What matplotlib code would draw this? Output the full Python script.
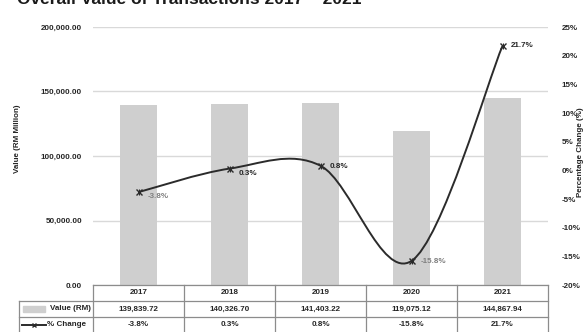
import matplotlib
matplotlib.use("Agg")
import matplotlib.pyplot as plt
from matplotlib.path import Path
from matplotlib.patches import PathPatch, Rectangle
from matplotlib.ticker import FuncFormatter, MultipleLocator

# data
years = ["2017", "2018", "2019", "2020", "2021"]
value_rm = [139839.72, 140326.70, 141403.22, 119075.12, 144867.94]
pct_change = [-3.8, 0.3, 0.8, -15.8, 21.7]
value_labels = ["139,839.72", "140,326.70", "141,403.22", "119,075.12", "144,867.94"]
pct_labels = ["-3.8%", "0.3%", "0.8%", "-15.8%", "21.7%"]

BAR_COLOR = "#cfcfcf"
LINE_COLOR = "#2b2b2b"
TEXT_COLOR = "#262626"
BORDER = "#8c8c8c"
GRID = "#d9d9d9"
FONT = "Liberation Sans"
FS = 5.8

plt.rcParams["font.family"] = [FONT, "DejaVu Sans"]

W, H = 586, 332
fig = plt.figure(figsize=(W / 100, H / 100), dpi=100)

# plot area in pixels
px_l, px_r, px_t, px_b = 93, 548, 27, 285
pw, ph = px_r - px_l, px_b - px_t
ax = fig.add_axes([px_l / W, 1 - px_b / H, pw / W, ph / H])
x = list(range(len(years)))
ax.bar(x, value_rm, width=0.4, color=BAR_COLOR, zorder=2)
ax.set_xlim(-0.5, len(years) - 0.5)
ax.set_ylim(0, 200000)
ax.yaxis.set_major_locator(MultipleLocator(50000))
ax.yaxis.set_major_formatter(FuncFormatter(lambda v, p: f"{v:,.2f}"))
ax.grid(axis="y", color=GRID, lw=1.0, zorder=0)
ax.set_axisbelow(True)
ax.set_xticks([])
for s in ax.spines.values():
    s.set_visible(False)
ax.tick_params(axis="y", length=0, pad=8, labelsize=FS, labelcolor=TEXT_COLOR)
for t in ax.get_yticklabels():
    t.set_fontweight("bold")

# secondary axis: % change
ax2 = ax.twinx()
ax2.set_ylim(-20, 25)
ax2.yaxis.set_major_locator(MultipleLocator(5))
ax2.yaxis.set_major_formatter(FuncFormatter(lambda v, p: f"{v:.0f}%"))
for s in ax2.spines.values():
    s.set_visible(False)
ax2.tick_params(axis="y", length=0, pad=10, labelsize=FS, labelcolor=TEXT_COLOR)
for t in ax2.get_yticklabels():
    t.set_fontweight("bold")

# axis titles
fig.text(18 / W, 1 - 139 / H, "Value (RM Million)", rotation=90, ha="center", va="center",
         fontsize=FS, fontweight="bold", color=TEXT_COLOR)
fig.text(581 / W, 1 - 152 / H, "Percentage Change (%)", rotation=90, ha="center", va="center",
         fontsize=FS, fontweight="bold", color=TEXT_COLOR)

# smoothed line (Excel style bezier through the points)
pts = list(zip(x, pct_change))
verts = [pts[0]]
codes = [Path.MOVETO]
n = len(pts)
for i in range(n - 1):
    p0 = pts[i - 1] if i > 0 else pts[i]
    p1 = pts[i]
    p2 = pts[i + 1]
    p3 = pts[i + 2] if i + 2 < n else pts[i + 1]
    c1 = (p1[0] + (p2[0] - p0[0]) / 6, p1[1] + (p2[1] - p0[1]) / 6)
    c2 = (p2[0] - (p3[0] - p1[0]) / 6, p2[1] - (p3[1] - p1[1]) / 6)
    verts += [c1, c2, p2]
    codes += [Path.CURVE4] * 3
ax2.add_patch(PathPatch(Path(verts, codes), fill=False, ec=LINE_COLOR, lw=1.4, zorder=3))
ax2.plot(x, pct_change, ls="none", marker="x", ms=4.5, mew=1.0, color=LINE_COLOR, zorder=4)
ax2.plot(x, pct_change, ls="none", marker="|", ms=4.5, mew=0.8, color=LINE_COLOR, zorder=4)

offsets = [(9, -4), (9, -5), (9, -1), (9, -1), (8, 0)]
for xi, v, lab, off in zip(x, pct_change, pct_labels, offsets):
    col = "#7f7f7f" if v < 0 else TEXT_COLOR
    ax2.annotate(lab, (xi, v), xytext=off, textcoords="offset pixels",
                 ha="left", va="center", fontsize=FS, fontweight="bold", color=col)

# title (cut off at the top of the image in the reference)
fig.text(17 / W, 1 - 4 / H, "Overall Value of Transactions 2017 \u2013 2021",
         fontsize=12.5, fontweight="bold", color="#1a1a1a", va="baseline", ha="left")

# data table below the plot
col_w = pw / len(years)
lab_l = 19
row_h = 16
tab = fig.add_axes([lab_l / W, 1 - (px_b + 3 * row_h) / H, (px_r - lab_l) / W, 3 * row_h / H])
x0 = -0.5 - (px_l - lab_l) / col_w
tab.set_xlim(x0, len(years) - 0.5)
tab.set_ylim(3, 0)
tab.axis("off")
kw = dict(color=BORDER, lw=0.9, clip_on=False)
xe = len(years) - 0.5
for r in range(4):
    xs = -0.5 if r == 0 else x0
    tab.plot([xs, xe], [r, r], **kw)
for c in range(len(years) + 1):
    tab.plot([c - 0.5, c - 0.5], [0, 3], **kw)
tab.plot([x0, x0], [1, 3], **kw)

tkw = dict(fontsize=FS, fontweight="bold", color=TEXT_COLOR, ha="center", va="center")
for i in x:
    tab.text(i, 0.5, years[i], **tkw)
    tab.text(i, 1.5, value_labels[i], **tkw)
    tab.text(i, 2.5, pct_labels[i], **tkw)


def px2x(p):
    return x0 + (p - lab_l) / col_w


tab.add_patch(Rectangle((px2x(23), 1.3), px2x(45) - px2x(23), 0.4, color=BAR_COLOR, clip_on=False))
tab.text(px2x(91), 1.5, "Value (RM)", fontsize=FS, fontweight="bold", color=TEXT_COLOR, ha="right", va="center")
tab.plot([px2x(22), px2x(46)], [2.5, 2.5], color=LINE_COLOR, lw=1.4, clip_on=False)
tab.plot([px2x(34)], [2.5], marker="x", ms=3.5, mew=1.0, color=LINE_COLOR, clip_on=False)
tab.text(px2x(47), 2.5, "% Change", fontsize=FS, fontweight="bold", color=TEXT_COLOR, ha="left", va="center")

fig.savefig("out.png", dpi=100)
